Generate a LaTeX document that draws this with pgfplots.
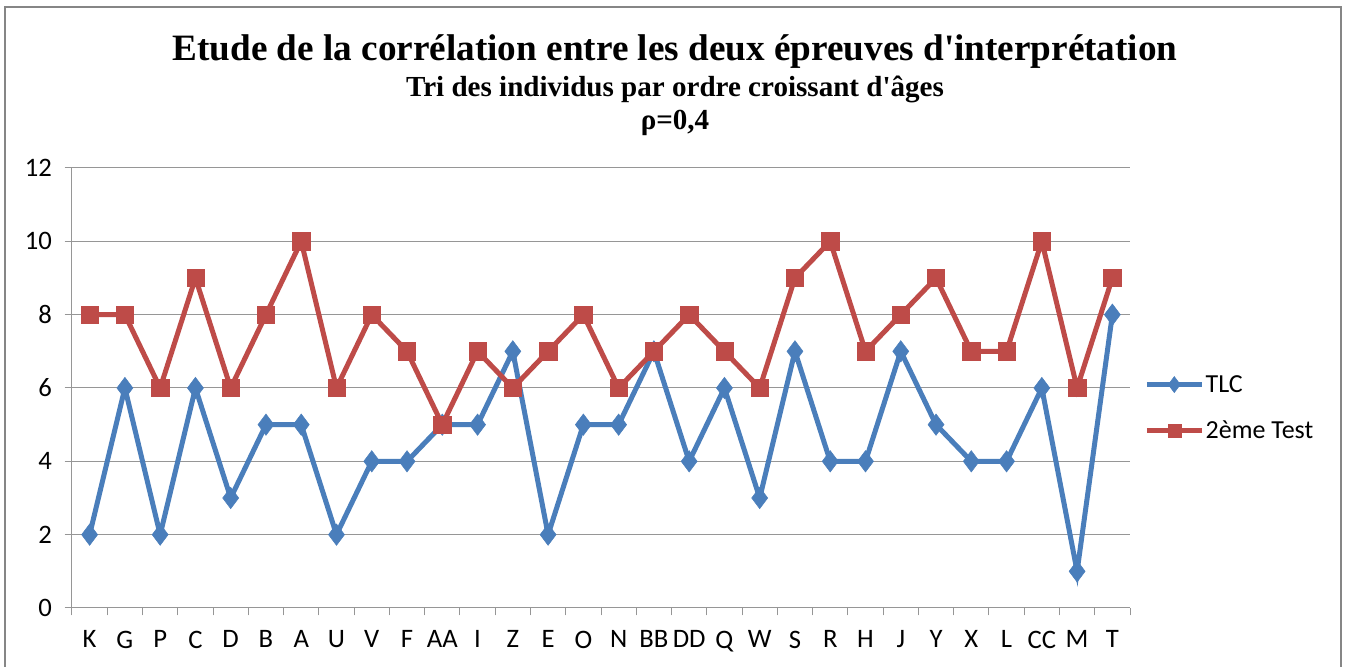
\documentclass[border=0pt]{standalone}
\usepackage{fontspec}
\setmainfont{Carlito}
\newfontfamily\tnrb{Liberation Serif Bold}
\usepackage{pgfplots}
\pgfplotsset{compat=1.18}
\definecolor{tlc}{RGB}{74,126,187}
\definecolor{tst}{RGB}{190,75,72}
\definecolor{gridc}{RGB}{150,150,150}
\definecolor{framec}{RGB}{134,134,134}
\begin{document}
\begin{tikzpicture}
\useasboundingbox (0,0) rectangle (1011.75pt,500.25pt);
\draw[framec,line width=1.5pt] (3.75pt,-5pt) -- (3.75pt,495pt) -- (1005.75pt,495pt) -- (1005.75pt,-5pt);
\node[anchor=base,inner sep=0pt,font=\tnrb] at (506.25pt,454.5pt) {\fontsize{27.9}{30}\selectfont Etude de la corrélation entre les deux épreuves d'interprétation};
\node[anchor=base,inner sep=0pt,font=\tnrb] at (506.25pt,427.5pt) {\fontsize{21.8}{24}\selectfont Tri des individus par ordre croissant d'âges};
\node[anchor=base,inner sep=0pt,font=\tnrb] at (506.25pt,402.75pt) {\fontsize{21.8}{24}\selectfont ρ=0,4};
\begin{axis}[at={(54pt,44.25pt)},anchor=south west,scale only axis,
  width=793.5pt,height=330pt,
  xmin=-0.5,xmax=29.5,ymin=0,ymax=12,
  xtick={-0.5,0.5,...,29.5},
  x tick label as interval,
  xticklabels={K,G,P,C,D,B,A,U,V,F,AA,I,Z,E,O,N,BB,DD,Q,W,S,R,H,J,Y,X,L,CC,M,T},
  ytick={0,2,...,12},
  ymajorgrids, grid style={gridc,line width=0.75pt},
  axis x line*=bottom, axis y line*=left,
  axis line style={gridc,line width=0.75pt},
  tick align=outside, major tick length=5.5pt,
  tick style={gridc,line width=0.75pt},
  ticklabel style={font=\fontsize{20}{20}\selectfont,text=black},
  /pgf/number format/assume math mode=true,
  yticklabel style={xshift=-6pt},
  xticklabel style={yshift=-8pt},
  legend style={at={(1.0095,0.455)},anchor=west,draw=none,fill=none,
    font=\fontsize{19.5}{20}\selectfont,row sep=18pt,
    nodes={inner sep=1pt}},
  legend cell align=left,
  legend image code/.code={\draw[mark repeat=2,mark phase=2,#1,every mark/.append style={scale=0.75}] plot coordinates {(0pt,0pt)(20.6pt,0pt)(41.25pt,0pt)};},
]
\addplot[tlc,line width=3.75pt,mark=diamond*,mark size=8pt,mark options={solid,line width=0.4pt}] coordinates {
(0,2)(1,6)(2,2)(3,6)(4,3)(5,5)(6,5)(7,2)(8,4)(9,4)(10,5)(11,5)(12,7)(13,2)(14,5)
(15,5)(16,7)(17,4)(18,6)(19,3)(20,7)(21,4)(22,4)(23,7)(24,5)(25,4)(26,4)(27,6)(28,1)(29,8)};
\addplot[tst,line width=3.75pt,mark=square*,mark size=6.5pt,mark options={solid,line width=0.4pt}] coordinates {
(0,8)(1,8)(2,6)(3,9)(4,6)(5,8)(6,10)(7,6)(8,8)(9,7)(10,5)(11,7)(12,6)(13,7)(14,8)
(15,6)(16,7)(17,8)(18,7)(19,6)(20,9)(21,10)(22,7)(23,8)(24,9)(25,7)(26,7)(27,10)(28,6)(29,9)};
\legend{TLC,2ème Test}
\end{axis}
\end{tikzpicture}
\end{document}
